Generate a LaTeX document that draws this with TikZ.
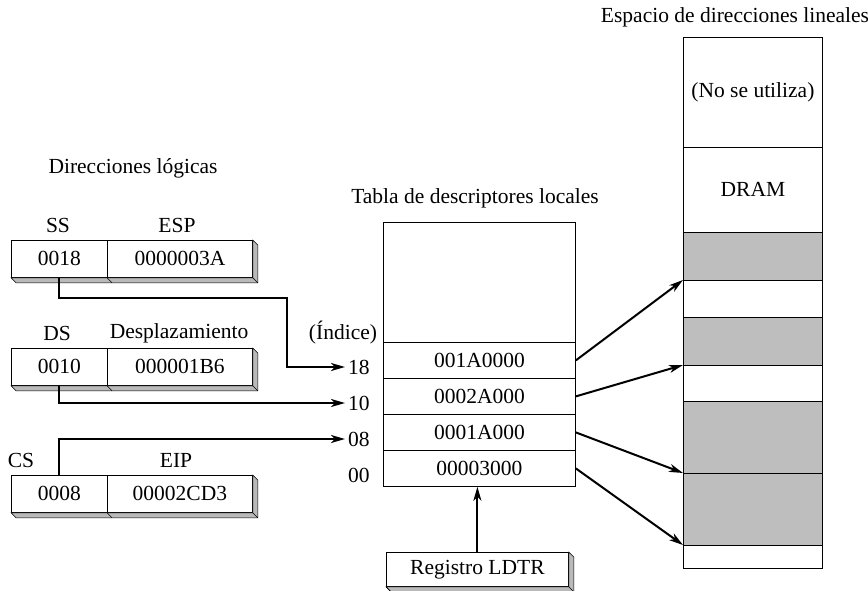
\documentclass[tikz,border=0pt]{standalone}
\usepackage{fontspec}
\setmainfont{Liberation Serif}
\usetikzlibrary{arrows.meta,calc}
\definecolor{shade}{RGB}{190,190,190}
\definecolor{faceg}{RGB}{185,185,185}
\newcommand\shadebox[2]{%
  \filldraw[faceg, draw=black, line width=0.6pt]
    (#1.south west) -- ++(5,5) -- ($(#2.south east)+(5,5)$) -- ($(#2.north east)+(5,5)$)
    -- (#2.north east) -- (#2.south east) -- cycle;
  \draw[line width=0.6pt] (#2.south east) -- ++(5,5) (#2.south west) -- ++(5,5);
}
\begin{document}
\begin{tikzpicture}[x=1pt,y=-1pt,
  every node/.style={font=\fontsize{21.5}{25}\selectfont, inner sep=0pt},
  cell/.style={draw, line width=0.8pt, fill=white, minimum height=37pt, anchor=north west},
  tcell/.style={draw, line width=0.8pt, fill=white, minimum width=192pt, minimum height=36pt, anchor=north west},
  colw/.style={draw, line width=0.8pt, fill=white, minimum width=139pt, anchor=north west},
  colg/.style={draw, line width=0.8pt, fill=shade, minimum width=139pt, anchor=north west},
  arr/.style={line width=2pt, -{Stealth[length=14pt,width=8pt,inset=4pt]}},
  idx/.style={anchor=west, inner sep=3pt}]
\useasboundingbox (0,0) rectangle (868,591);

% titles
\node (tlog) at (133,168) {Direcciones lógicas};
\node (ttab) at (475,198) {Tabla de descriptores locales};
\node (tlin) at (735,17) {Espacio de direcciones lineales};

% logical address boxes
\node (lss) at (58,225) {SS};
\node (lesp) at (177,225) {ESP};
\node[cell, minimum width=96pt] (ss) at (11,240) {0018};
\node[cell, minimum width=145pt] (esp) at (107,240) {0000003A};
\shadebox{ss}{esp}

\node (lds) at (57,333) {DS};
\node (ldesp) at (179,333) {Desplazamiento};
\node[cell, minimum width=96pt] (ds) at (11,348) {0010};
\node[cell, minimum width=145pt] (desp) at (107,348) {000001B6};
\shadebox{ds}{desp}

\node (lcs) at (21,460) {CS};
\node (leip) at (176,460) {EIP};
\node[cell, minimum width=96pt] (cs) at (11,475) {0008};
\node[cell, minimum width=145pt] (eip) at (107,475) {00002CD3};
\shadebox{cs}{eip}

% descriptor table
\node[tcell, minimum height=120pt] (ttop) at (383,222) {};
\node[tcell] (r18) at (383,342) {001A0000};
\node[tcell] (r10) at (383,378) {0002A000};
\node[tcell] (r08) at (383,414) {0001A000};
\node[tcell] (r00) at (383,450) {00003000};

\node (lind) at (343,333) {(Índice)};
\node[idx] (i18) at (345,367) {18};
\node[idx] (i10) at (345,403) {10};
\node[idx] (i08) at (345,439) {08};
\node[idx] (i00) at (345,475) {00};

% LDTR register
\node[cell, minimum width=182pt, minimum height=34pt] (reg) at (386,552) {Registro LDTR};
\shadebox{reg}{reg}

% linear address space
\node[colw, minimum height=110pt] (nouse) at (683,37) {(No se utiliza)};
\node[colw, minimum height=85pt] (dram) at (683,147) {DRAM};
\node[colg, minimum height=48pt] (g1) at (683,232) {};
\node[colw, minimum height=37pt] (w1) at (683,280) {};
\node[colg, minimum height=48pt] (g2) at (683,317) {};
\node[colw, minimum height=36pt] (w2) at (683,365) {};
\node[colg, minimum height=72pt] (g3) at (683,401) {};
\node[colg, minimum height=72pt] (g4) at (683,473) {};
\node[colw, minimum height=23pt] (w3) at (683,545) {};

% connectors
\coordinate (b1) at (287,298);
\draw[arr] (ss.south) |- (b1) |- (i18.west);
\draw[arr] (ds.south) |- (i10.west);
\draw[arr] (cs.north) |- (i08.west);
\draw[arr] (reg.north) -- (reg.north |- r00.south);

\draw[arr] (r18.east) -- (w1.north west);
\draw[arr] (r10.east) -- (w2.north west);
\draw[arr] (r08.east) -- (g4.north west);
\draw[arr] (r00.east) -- (w3.north west);
\end{tikzpicture}
\end{document}
